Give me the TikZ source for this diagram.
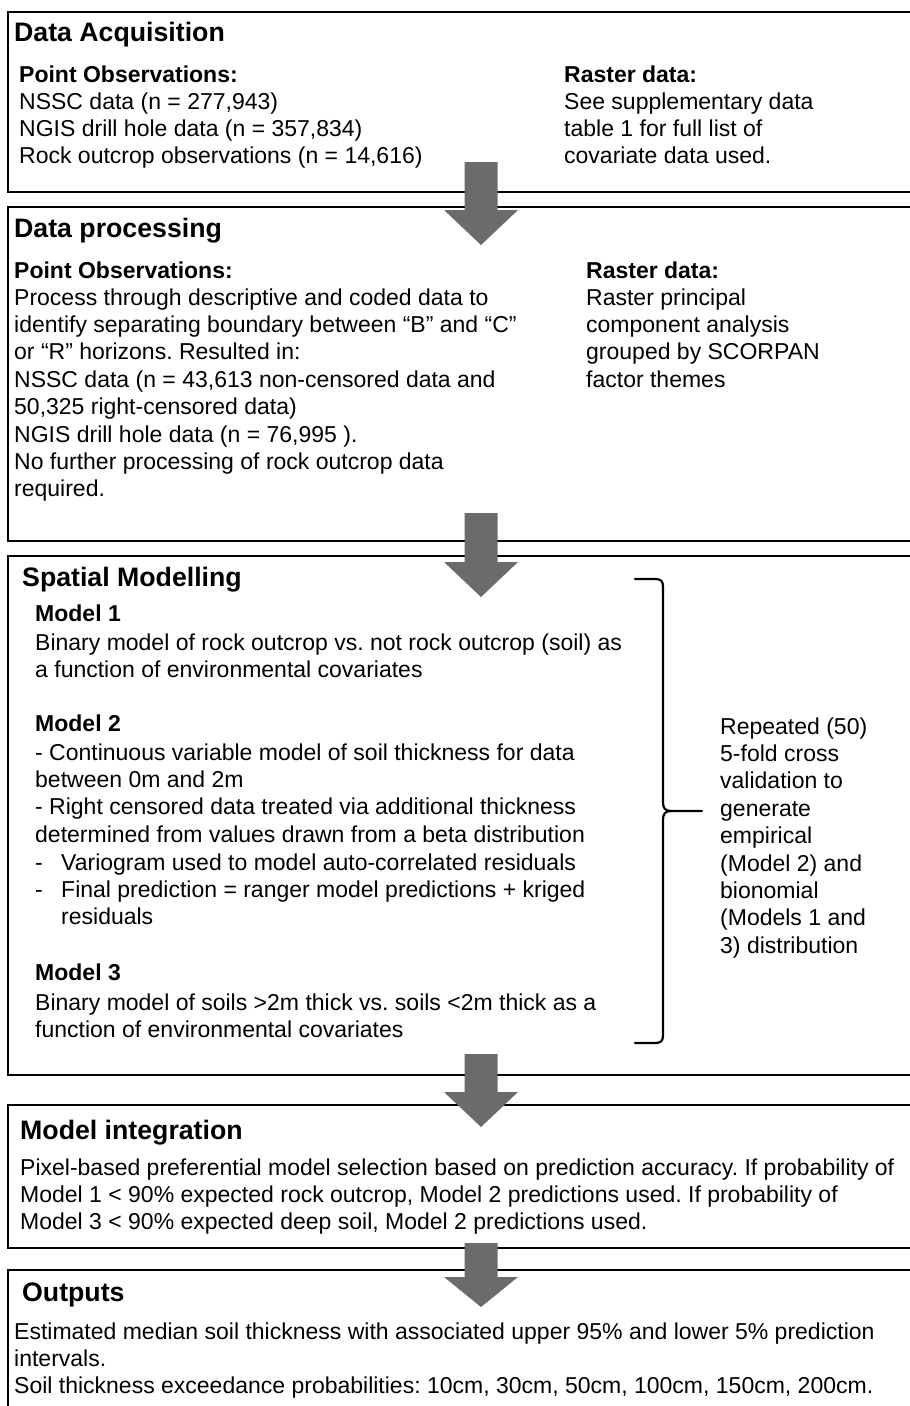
\documentclass[tikz,border=0pt]{standalone}
\usepackage{fontspec}
\setmainfont{Liberation Sans}
\usetikzlibrary{calc}
\frenchspacing
\definecolor{arrowgray}{HTML}{6B6B6B}
\newcommand{\mylines}[1]{\begin{tabular}[t]{@{}l@{}}#1\end{tabular}}
\tikzset{
  stagebox/.style={draw=black, line width=2.6pt, fill=none, rectangle, inner sep=0pt, anchor=north west},
  titletext/.style={anchor=base west, inner sep=0pt, font=\fontsize{26.7}{32}\selectfont\bfseries},
  subtext/.style={anchor=base west, inner sep=0pt, font=\fontsize{23}{27.4}\selectfont\bfseries},
  bodytext/.style={anchor=base west, inner sep=0pt, font=\fontsize{23}{27.4}\selectfont},
  blockarrow/.style={fill=arrowgray, draw=none},
  bracepath/.style={draw=black, line width=2.2pt, line cap=round, line join=round}
}
\begin{document}
\begin{tikzpicture}[x=1pt, y=-1pt]
\useasboundingbox (0,0) rectangle (910,1406);
% boxes
\draw[stagebox] (8,12) rectangle (925,192);
\coordinate (b1) at (8,12);
\draw[stagebox] (8,207) rectangle (925,541);
\coordinate (b2) at (8,207);
\draw[stagebox] (8,556) rectangle (925,1075);
\coordinate (b3) at (8,556);
\draw[stagebox] (8,1105) rectangle (925,1248);
\coordinate (b4) at (8,1105);
\draw[stagebox] (8,1270) rectangle (925,1430);
\coordinate (b5) at (8,1270);

% Box 1
\node[titletext] (t1) at (14,41) {Data Acquisition};
\node[subtext] (p1h) at (19,82) {Point Observations:};
\node[bodytext] (p1) at (19,109) {\mylines{NSSC data (n = 277,943)\\NGIS drill hole data (n = 357,834)\\Rock outcrop observations (n = 14,616)}};
\node[subtext] (r1h) at (564,82) {Raster data:};
\node[bodytext] (r1) at (564,109) {\mylines{See supplementary data\\table 1 for full list of\\covariate data used.}};

% Box 2
\node[titletext] (t2) at (14,237) {Data processing};
\node[subtext] (p2h) at (14,278) {Point Observations:};
\node[bodytext] (p2) at (14,305) {\mylines{Process through descriptive and coded data to\\identify separating boundary between “B” and “C”\\or “R” horizons. Resulted in:\\NSSC data (n = 43,613 non-censored data and\\50,325 right-censored data)\\NGIS drill hole data (n = 76,995 ).\\No further processing of rock outcrop data\\required.}};
\node[subtext] (r2h) at (586,278) {Raster data:};
\node[bodytext] (r2) at (586,305) {\mylines{Raster principal\\component analysis\\grouped by SCORPAN\\factor themes}};

% Box 3
\node[titletext] (t3) at (22,586) {Spatial Modelling};
\node[subtext] (m1h) at (35,621) {Model 1};
\node[bodytext] (m1) at (35,650) {\mylines{Binary model of rock outcrop vs. not rock outcrop (soil) as\\a function of environmental covariates}};
\node[subtext] (m2h) at (35,731) {Model 2};
\node[bodytext] (m2) at (35,760) {\mylines{- Continuous variable model of soil thickness for data\\between 0m and 2m\\- Right censored data treated via additional thickness\\determined from values drawn from a beta distribution}};
\node[bodytext] (m2c) at (35,870) {\mylines{-\\-}};
\node[bodytext] (m2d) at (61,870) {\mylines{Variogram used to model auto-correlated residuals\\Final prediction = ranger model predictions + kriged\\residuals}};
\node[subtext] (m3h) at (35,980) {Model 3};
\node[bodytext] (m3) at (35,1010) {\mylines{Binary model of soils >2m thick vs. soils <2m thick as a\\function of environmental covariates}};
\node[bodytext] (rep) at (720,734) {\mylines{Repeated (50)\\5-fold cross\\validation to\\generate\\empirical\\(Model 2) and\\bionomial\\(Models 1 and\\3) distribution}};

% brace
\coordinate (brtop) at (635,579);
\coordinate (brbot) at (635,1043);
\coordinate (brtip) at (702,811);
\draw[bracepath] (brtop) -- (655,579) .. controls (661,579) and (663,581) .. (663,587)
  -- (663,802) .. controls (663,808) and (665,811) .. (671,811) -- (brtip);
\draw[bracepath] (671,811) .. controls (665,811) and (663,814) .. (663,820)
  -- (663,1035) .. controls (663,1041) and (661,1043) .. (655,1043) -- (brbot);

% Box 4
\node[titletext] (t4) at (20,1139) {Model integration};
\node[bodytext] (mi) at (20,1175) {\mylines{Pixel-based preferential model selection based on prediction accuracy. If probability of\\Model 1 < 90\% expected rock outcrop, Model 2 predictions used. If probability of\\Model 3 < 90\% expected deep soil, Model 2 predictions used.}};

% Box 5
\node[titletext] (t5) at (22,1301) {Outputs};
\node[bodytext] (out) at (14,1339) {\mylines{Estimated median soil thickness with associated upper 95\% and lower 5\% prediction\\intervals.\\Soil thickness exceedance probabilities: 10cm, 30cm, 50cm, 100cm, 150cm, 200cm.}};

% block arrows
\foreach \top/\hb/\tip [count=\i] in {162/210/245, 513/562/597, 1054/1092/1127, 1243/1277/1307}{
  \fill[blockarrow] (464.5,\top) -- (497.5,\top) -- (497.5,\hb) -- (518,\hb) -- (481,\tip) -- (444,\hb) -- (464.5,\hb) -- cycle;
}
\end{tikzpicture}
\end{document}
